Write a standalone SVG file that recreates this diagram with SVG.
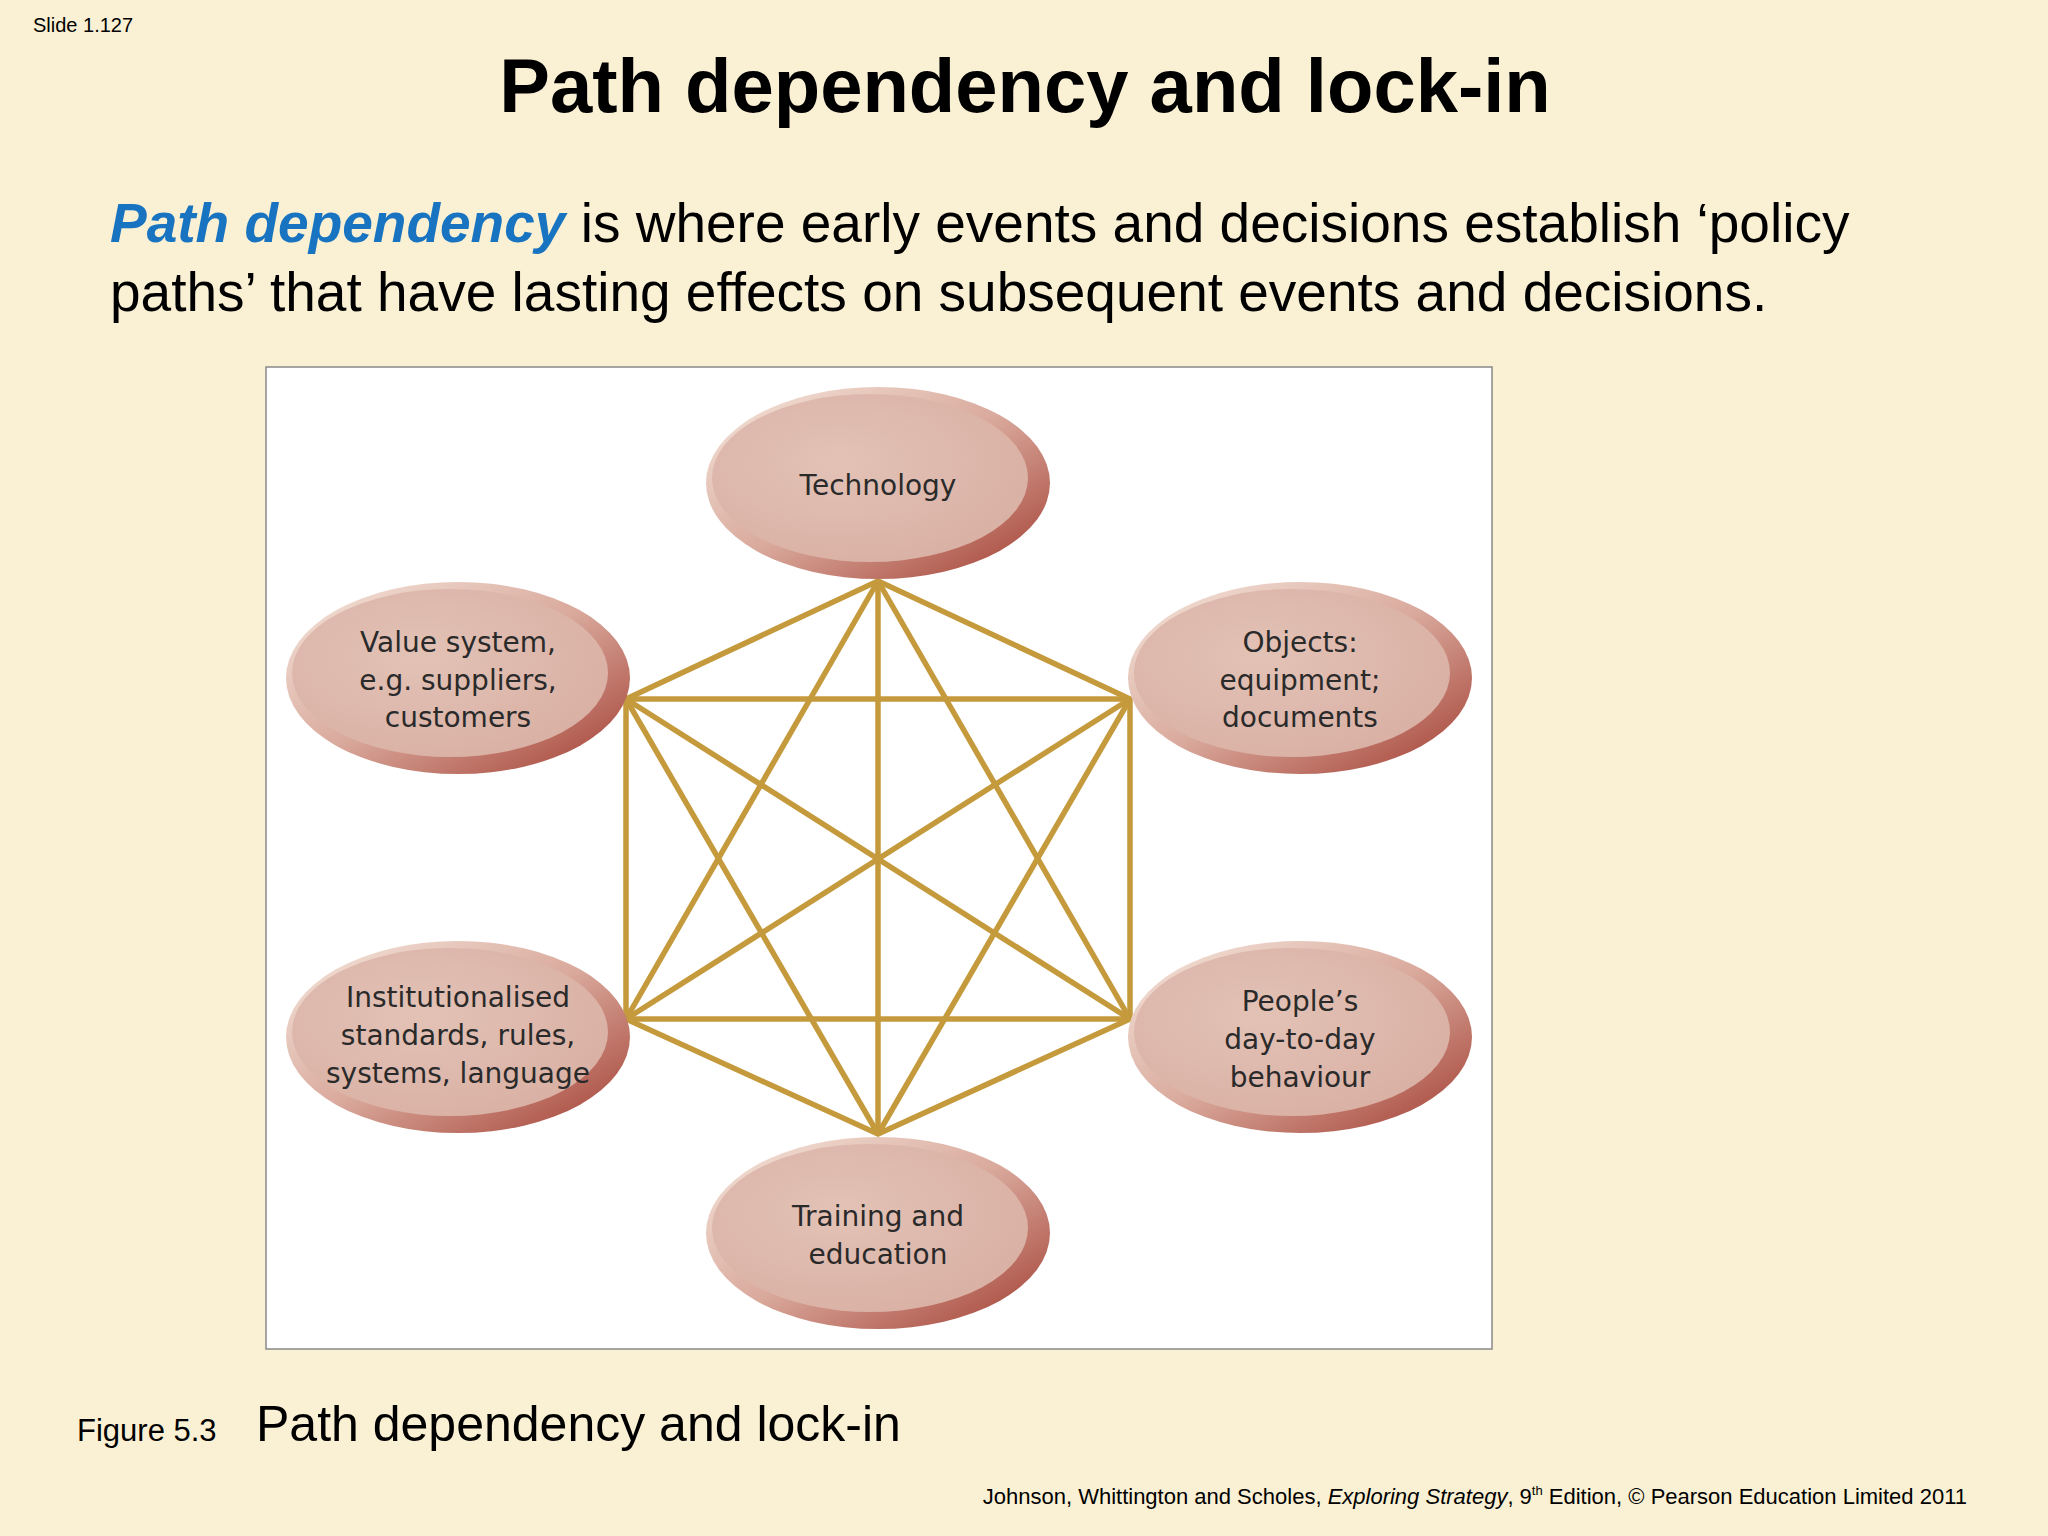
<svg xmlns="http://www.w3.org/2000/svg" width="2048" height="1536" viewBox="0 0 2048 1536">
<defs>
<linearGradient id="rim" x1="0" y1="0" x2="1" y2="1">
<stop offset="0" stop-color="#F6E8DE"/><stop offset="0.5" stop-color="#D9A99C"/><stop offset="1" stop-color="#A23C30"/>
</linearGradient>
<radialGradient id="core" cx="0.4" cy="0.4" r="0.7">
<stop offset="0" stop-color="#E3C2B6"/><stop offset="1" stop-color="#D9AFA3"/>
</radialGradient>
</defs>
<style>
.e{font-family:"DejaVu Sans",sans-serif;font-size:28px;fill:#2a2a2a;text-anchor:middle}
.ln{stroke:#C49A3C;stroke-width:5.5;fill:none}
</style>
<rect width="2048" height="1536" fill="#FAF0D4"/>
<text x="33" y="32" font-family="Liberation Sans,sans-serif" font-size="20">Slide 1.127</text>
<text x="1025" y="112" font-family="Liberation Sans,sans-serif" font-size="76" font-weight="bold" text-anchor="middle">Path dependency and lock-in</text>
<text x="110" y="242" font-family="Liberation Sans,sans-serif" font-size="55"><tspan fill="#1874C0" font-weight="bold" font-style="italic">Path dependency</tspan> is where early events and decisions establish ‘policy</text>
<text x="110" y="311" font-family="Liberation Sans,sans-serif" font-size="55">paths’ that have lasting effects on subsequent events and decisions.</text>
<rect x="266" y="367" width="1226" height="982" fill="#fff" stroke="#888" stroke-width="1.5"/>
<g id="connectors" class="ln">
<polygon points="878,581 1130,699 1130,1019 878,1134 626,1019 626,699"/>
<line x1="878" y1="581" x2="878" y2="1134"/>
<line x1="878" y1="581" x2="626" y2="1019"/>
<line x1="878" y1="581" x2="1130" y2="1019"/>
<line x1="626" y1="699" x2="1130" y2="699"/>
<line x1="626" y1="699" x2="1130" y2="1019"/>
<line x1="626" y1="699" x2="878" y2="1134"/>
<line x1="1130" y1="699" x2="626" y2="1019"/>
<line x1="1130" y1="699" x2="878" y2="1134"/>
<line x1="626" y1="1019" x2="1130" y2="1019"/>
</g>
<g id="technology"><ellipse cx="878" cy="483" rx="172" ry="96" fill="url(#rim)"/><ellipse cx="870" cy="478" rx="158" ry="84" fill="url(#core)"/><text class="e" x="878" y="495">Technology</text></g>
<g id="value"><ellipse cx="458" cy="678" rx="172" ry="96" fill="url(#rim)"/><ellipse cx="450" cy="673" rx="158" ry="84" fill="url(#core)"/><text class="e" x="458" y="652">Value system,</text><text class="e" x="458" y="690">e.g. suppliers,</text><text class="e" x="458" y="727">customers</text></g>
<g id="objects"><ellipse cx="1300" cy="678" rx="172" ry="96" fill="url(#rim)"/><ellipse cx="1292" cy="673" rx="158" ry="84" fill="url(#core)"/><text class="e" x="1300" y="652">Objects:</text><text class="e" x="1300" y="690">equipment;</text><text class="e" x="1300" y="727">documents</text></g>
<g id="institutional"><ellipse cx="458" cy="1037" rx="172" ry="96" fill="url(#rim)"/><ellipse cx="450" cy="1032" rx="158" ry="84" fill="url(#core)"/><text class="e" x="458" y="1007">Institutionalised</text><text class="e" x="458" y="1045">standards, rules,</text><text class="e" x="458" y="1083">systems, language</text></g>
<g id="people"><ellipse cx="1300" cy="1037" rx="172" ry="96" fill="url(#rim)"/><ellipse cx="1292" cy="1032" rx="158" ry="84" fill="url(#core)"/><text class="e" x="1300" y="1011">People’s</text><text class="e" x="1300" y="1049">day-to-day</text><text class="e" x="1300" y="1087">behaviour</text></g>
<g id="training"><ellipse cx="878" cy="1233" rx="172" ry="96" fill="url(#rim)"/><ellipse cx="870" cy="1228" rx="158" ry="84" fill="url(#core)"/><text class="e" x="878" y="1226">Training and</text><text class="e" x="878" y="1264">education</text></g>
<text x="77" y="1441" font-family="Liberation Sans,sans-serif" font-size="31">Figure 5.3</text>
<text x="256" y="1441" font-family="Liberation Sans,sans-serif" font-size="50">Path dependency and lock-in</text>
<text x="1967" y="1504" font-family="Liberation Sans,sans-serif" font-size="22" text-anchor="end">Johnson, Whittington and Scholes, <tspan font-style="italic">Exploring Strategy</tspan>, 9<tspan font-size="13" dy="-9">th</tspan><tspan dy="9"> Edition, © Pearson Education Limited 2011</tspan></text>
</svg>
